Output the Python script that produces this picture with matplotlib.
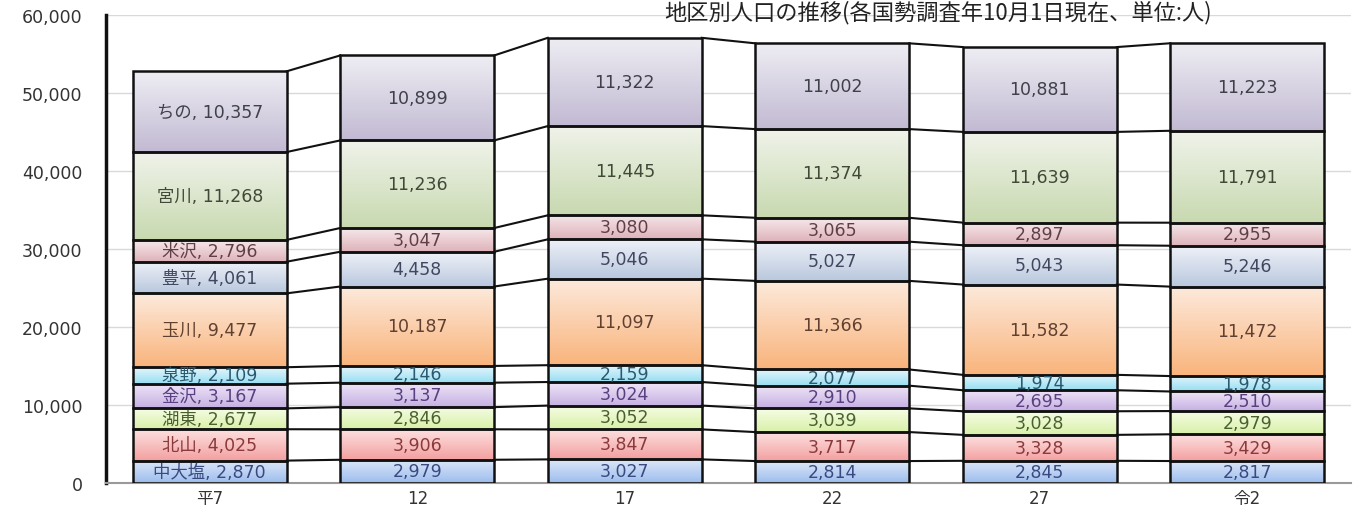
import numpy as np
import matplotlib
matplotlib.use("Agg")
import matplotlib.pyplot as plt
from matplotlib.colors import LinearSegmentedColormap

plt.rcParams['font.family'] = ['DejaVu Sans', 'Noto Sans CJK JP']

years = ['平7', '12', '17', '22', '27', '令2']
areas = ['中大塩', '北山', '湖東', '金沢', '泉野', '玉川', '豊平', '米沢', '宮川', 'ちの']
pop = {
    '中大塩': [2870, 2979, 3027, 2814, 2845, 2817],
    '北山': [4025, 3906, 3847, 3717, 3328, 3429],
    '湖東': [2677, 2846, 3052, 3039, 3028, 2979],
    '金沢': [3167, 3137, 3024, 2910, 2695, 2510],
    '泉野': [2109, 2146, 2159, 2077, 1974, 1978],
    '玉川': [9477, 10187, 11097, 11366, 11582, 11472],
    '豊平': [4061, 4458, 5046, 5027, 5043, 5246],
    '米沢': [2796, 3047, 3080, 3065, 2897, 2955],
    '宮川': [11268, 11236, 11445, 11374, 11639, 11791],
    'ちの': [10357, 10899, 11322, 11002, 10881, 11223],
}
title = '地区別人口の推移(各国勢調査年10月1日現在、単位:人)'

# gradient (top, bottom) and label colour per area
fills = {
    '中大塩': ('#dde8f8', '#9dbdee', '#3a4a80'),
    '北山': ('#fde0e0', '#f3a0a0', '#8a3a3a'),
    '湖東': ('#f6fde6', '#d9f0a8', '#4a6030'),
    '金沢': ('#efe6f8', '#c6b0e2', '#5a4080'),
    '泉野': ('#e4f6fc', '#98def2', '#2a5a70'),
    '玉川': ('#fdeadc', '#f9b47c', '#604030'),
    '豊平': ('#eef1f8', '#b9c8de', '#404860'),
    '米沢': ('#f6e8ea', '#deb2ba', '#604048'),
    '宮川': ('#f0f3ea', '#c8d9b0', '#404838'),
    'ちの': ('#eeedf3', '#c2bad3', '#404048'),
}

fig = plt.figure(figsize=(13.61, 5.06), dpi=100)
ax = fig.add_axes([0.0779, 0.0435, 0.9148, 0.9245])

x = np.arange(len(years))
w = 0.742
bottom = np.zeros(len(years))
tops = []
grad = np.linspace(0, 1, 64).reshape(-1, 1)
for k, name in enumerate(areas):
    vals = np.array(pop[name], dtype=float)
    top_c, bot_c, txt_c = fills[name]
    cmap = LinearSegmentedColormap.from_list(name, [bot_c, top_c])
    bars = ax.bar(x, vals, w, bottom=bottom, color='none', edgecolor='#111111',
                  linewidth=1.8, zorder=3)
    for i, b in enumerate(bars):
        im = ax.imshow(grad, cmap=cmap, origin='lower', aspect='auto',
                       extent=[b.get_x(), b.get_x() + b.get_width(),
                               b.get_y(), b.get_y() + b.get_height()], zorder=2)
        im.set_clip_path(b)
        if i == 0:
            lab = f'{name}, {int(vals[i]):,}'
        else:
            lab = f'{int(vals[i]):,}'
        ax.text(x[i], bottom[i] + vals[i] / 2, lab, ha='center', va='center',
                fontsize=12.5, color=txt_c, zorder=4)
    bottom = bottom + vals
    tops.append(bottom.copy())

# series lines between bars
for t in tops:
    for i in range(len(years) - 1):
        ax.plot([x[i] + w / 2, x[i + 1] - w / 2], [t[i], t[i + 1]],
                color='#111111', lw=1.5, zorder=3)

ax.set_xlim(-0.5, 5.5)
ax.set_ylim(0, 60000)
ax.set_yticks(np.arange(0, 60001, 10000))
ax.yaxis.set_major_formatter(matplotlib.ticker.FuncFormatter(lambda v, p: f'{int(v):,}'))
ax.set_xticks(x)
ax.set_xticklabels(years)
ax.tick_params(axis='y', length=0, pad=17, labelsize=12.5, labelcolor='#333333')
ax.tick_params(axis='x', length=0, pad=4, labelsize=12, labelcolor='#333333')
ax.grid(axis='y', color='#d9d9d9', lw=1, zorder=0)
ax.set_axisbelow(True)
for s in ['top', 'right']:
    ax.spines[s].set_visible(False)
ax.spines['left'].set_color('#111111')
ax.spines['left'].set_linewidth(2.5)
ax.spines['bottom'].set_color('#9a9a9a')
ax.spines['bottom'].set_linewidth(1.5)

fig.text(0.689, 0.999, title, ha='center', va='top', fontsize=16, color='#222222',
         family=['Noto Sans CJK JP', 'DejaVu Sans'])

fig.savefig('out.png', dpi=100)
